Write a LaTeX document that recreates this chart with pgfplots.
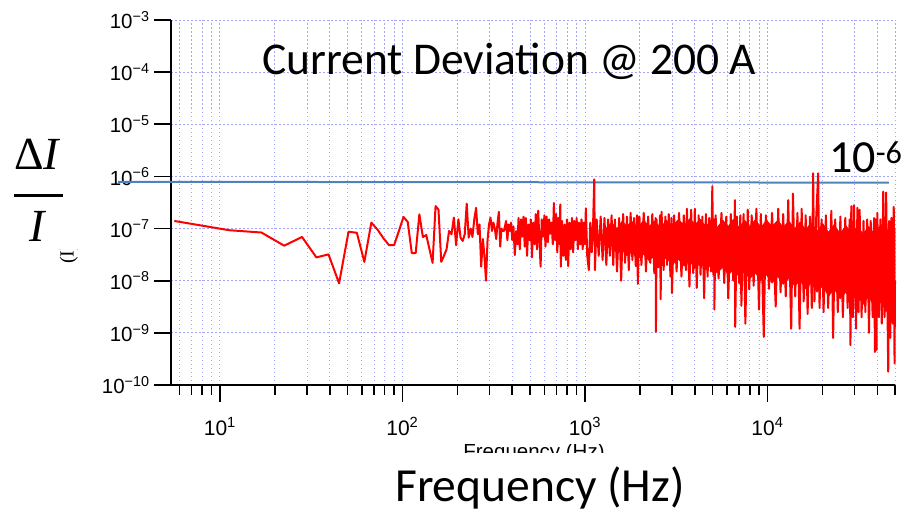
\documentclass[border=0pt]{standalone}
\usepackage{fontspec}
\setmainfont{Carlito}
\newfontfamily\arialf{Liberation Sans}
\newfontfamily\timesf{Liberation Serif}
\usepackage{pgfplots}
\pgfplotsset{compat=1.18}
\definecolor{gridc}{RGB}{165,165,250}
\definecolor{blueline}{RGB}{79,129,189}
\begin{document}
\begin{tikzpicture}[x=1pt,y=1pt]
\useasboundingbox (0,0) rectangle (904,516);
\begin{axis}[
  at={(171pt,131pt)}, anchor=south west,
  width=724pt, height=365pt, scale only axis,
  xmode=log, ymode=log,
  xmin=5.4, xmax=50000, ymin=1e-10, ymax=1e-3,
  axis x line*=bottom, axis y line*=left,
  axis line style={line width=1.6pt, black},
  tick align=outside,
  major tick length=17pt, minor tick length=10pt,
  every tick/.append style={black, line width=1.6pt},
  xtick={10,100,1000,10000},
  xticklabels={10\textsuperscript{1},10\textsuperscript{2},10\textsuperscript{3},10\textsuperscript{4}},
  minor xtick={6,7,8,9,20,30,40,50,60,70,80,90,200,300,400,500,600,700,800,900,2000,3000,4000,5000,6000,7000,8000,9000,20000,30000,40000,50000},
  ytick={1e-10,1e-9,1e-8,1e-7,1e-6,1e-5,1e-4,1e-3},
  yticklabels={10\textsuperscript{−10},10\textsuperscript{−9},10\textsuperscript{−8},10\textsuperscript{−7},10\textsuperscript{−6},10\textsuperscript{−5},10\textsuperscript{−4},10\textsuperscript{−3}},
  yminorticks=false,
  xticklabel style={font=\arialf\fontsize{21}{21}\selectfont, yshift=-12pt},
  yticklabel style={font=\arialf\fontsize{20.5}{20.5}\selectfont, xshift=-1pt},
  xmajorgrids, xminorgrids, ymajorgrids,
  major grid style={gridc, line width=0.8pt, dash pattern=on 1.5pt off 2.5pt},
  minor grid style={gridc, line width=0.8pt, dash pattern=on 1.5pt off 2.5pt},
  clip=false,
]
\addplot[blueline, line width=2pt] coordinates {(2.76,7.9e-7) (46300,7.6e-7)};
% dense core band
\addplot[fill=red, draw=red, line width=0.6pt, line join=round] coordinates {
(1300,1.0e-7) (1400,1.3e-7) (1500,1.0e-7) (1600,1.4e-7) (1700,1.1e-7) (1800,1.4e-7)
(1950,1.05e-7) (2100,1.45e-7) (2250,1.1e-7) (2400,1.4e-7) (2600,1.05e-7) (2800,1.45e-7)
(3000,1.1e-7) (3250,1.5e-7) (3500,1.15e-7) (3750,1.55e-7) (4000,1.2e-7) (4300,1.5e-7)
(4600,1.1e-7) (4900,1.45e-7) (5300,1.05e-7) (5700,1.45e-7) (6100,1.1e-7) (6500,1.5e-7)
(7000,1.05e-7) (7500,1.45e-7) (8000,1.1e-7) (8600,1.5e-7) (9200,1.05e-7) (9900,1.45e-7)
(10600,1.1e-7) (11400,1.45e-7) (12200,1.05e-7) (13100,1.4e-7) (14100,1.0e-7) (15100,1.35e-7)
(16200,9.5e-8) (17400,1.3e-7) (18700,9e-8) (20100,1.25e-7) (21600,8.5e-8) (23200,1.2e-7)
(25000,8e-8) (26900,1.15e-7) (28900,8e-8) (31100,1.1e-7) (33400,8e-8) (35900,1.1e-7)
(38600,8e-8) (41500,1.15e-7) (44600,8.5e-8) (47800,1.2e-7) (50000,1.0e-7)
(50000,2.5e-9) (47800,4e-9) (44600,2.5e-9) (41500,4.5e-9) (38600,3e-9) (35900,5e-9)
(33400,3.5e-9) (31100,5.5e-9) (28900,4e-9) (26900,6e-9) (25000,4.5e-9) (23200,7e-9)
(21600,5e-9) (20100,8e-9) (18700,6e-9) (17400,9e-9) (16200,7e-9) (15100,1.0e-8)
(14100,8e-9) (13100,1.1e-8) (12200,8.5e-9) (11400,1.2e-8) (10600,9e-9) (9900,1.3e-8)
(9200,1e-8) (8600,1.4e-8) (8000,1.1e-8) (7500,1.5e-8) (7000,1.2e-8) (6500,1.6e-8)
(6100,1.3e-8) (5700,1.8e-8) (5300,1.4e-8) (4900,2e-8) (4600,1.6e-8) (4300,2.2e-8)
(4000,1.7e-8) (3750,2.4e-8) (3500,1.9e-8) (3250,2.6e-8) (3000,2e-8) (2800,2.8e-8)
(2600,2.2e-8) (2400,3e-8) (2250,2.4e-8) (2100,3.2e-8) (1950,2.6e-8) (1800,3.5e-8)
(1700,3e-8) (1600,4e-8) (1500,3.5e-8) (1400,5e-8) (1300,5e-8)};
\addplot[red, line width=2pt, line join=round] coordinates {
(5.63,1.40e-7) (11.26,9.3e-8) (16.9,8.4e-8) (22.5,4.7e-8) (28.2,6.9e-8) (33.8,2.8e-8)
(39.4,3.2e-8) (45.0,8.9e-9) (50.7,8.7e-8) (56.3,8.3e-8) (61.9,2.3e-8) (67.6,1.3e-7)
(73.2,9.5e-8) (78.8,6.5e-8) (84.5,4.8e-8) (90.1,4.8e-8) (95.7,9e-8) (101.4,1.67e-7)
(107,1.34e-7) (112.6,3.4e-8) (118.3,3.4e-8) (123.9,1.88e-7) (129.5,6.9e-8) (135.2,7.5e-8)
(140.8,4e-8) (146.4,2.2e-8) (152,2.7e-7) (157.7,2.3e-7) (163.3,2.3e-8) (168.9,3e-8)
(174.6,4e-8) (180.2,9e-8) (185.8,7.8e-8) (191.5,1.62e-7) (197,4.8e-8) (202.7,1.51e-7)
(208.3,6.7e-8) (214,5.8e-8) (219.6,7.8e-8) (225.2,3e-7) (230.8,6.7e-8) (236.5,1e-7)
(242,6.9e-8) (247.7,1.5e-7) (253.4,2.5e-7) (259,7.8e-8) (264.6,1.2e-7) (270.3,1.86e-8)
(276,6.3e-8) (281.5,3e-8) (287.2,1e-8) (292.8,6e-8) (298.4,1.2e-7) (304,1.62e-7)
(309.7,9e-8) (315.3,1.3e-7) (321,1e-7) (326.6,6.3e-8) (332.2,1.3e-7) (337.9,2.1e-7)
(343.5,4.5e-8) (349,1e-7) (354.7,9e-8) (360.3,9e-8)
(370,1.4e-7) (376,6e-8) (382,1.2e-7) (388,9e-8) (394,1.3e-7) (400,6e-8) (406,1.1e-7)
(413,3.1e-8) (420,9e-8) (427,5e-8) (433,1.6e-7) (440,4e-8) (447,1.5e-7) (454,7e-8)
(461,1.7e-7) (468,4.5e-8) (475,1.6e-7) (482,3e-8) (490,1.2e-7) (498,6e-8) (505,1.5e-7)
(513,2.8e-8) (521,1.3e-7) (530,5e-8) (538,1.9e-7) (546,4e-8) (555,2.2e-7) (563,6e-8)
(572,1.86e-8) (580,1.5e-7) (590,7e-8) (600,1.8e-7) (608,4.5e-8) (617,1.7e-7) (627,5.5e-8)
(637,1.5e-7) (647,8e-8) (657,1.3e-7) (667,5e-8) (676,3.1e-7) (686,6e-8) (696,1.9e-7)
(706,3.5e-8) (717,1.6e-7) (727,5e-8) (733,2.9e-7) (738,1.86e-8) (750,1.4e-7) (762,3e-8)
(774,1.2e-7) (786,2.5e-8) (798,1.5e-7) (810,1.9e-8) (823,1.3e-7) (836,4e-8) (849,1.6e-7)
(862,3.5e-8) (875,1.4e-7) (888,6e-8) (901,1.6e-7) (915,4e-8) (929,1.3e-7) (943,5e-8)
(958,1.5e-7) (972,4e-8) (987,1.3e-7) (1000,5e-8) (1012,2.45e-7) (1030,3e-8) (1051,1.6e-8)
(1070,1.3e-7) (1090,3.5e-8) (1110,1.4e-7) (1125,8.8e-7) (1135,1.6e-8) (1160,1.5e-7)
(1190,3e-8) (1220,1.7e-7) (1250,2.5e-8) (1280,1.6e-7) (1310,2e-8) (1340,1.5e-7)
(1370,3e-8) (1400,1.8e-7) (1430,2e-8) (1460,1.5e-7) (1500,1.5e-8)
(1540,1.6e-7) (1580,1e-8) (1620,1.9e-7) (1660,2.2e-8) (1700,1.7e-7) (1740,1.6e-8)
(1780,2e-7) (1820,2.5e-8) (1860,1.6e-7) (1900,1.9e-8) (1930,1.8e-7) (1950,8.7e-9)
(1990,1.7e-7) (2040,2e-8) (2100,2e-7) (2160,1.5e-8) (2220,1.7e-7) (2280,2.2e-8)
(2340,1.9e-7) (2400,1.4e-8) (2440,1.6e-7) (2450,1.05e-9) (2470,1.5e-7) (2520,1.8e-8)
(2580,1.8e-7) (2600,4.4e-9) (2630,2.1e-7) (2700,1.6e-8) (2760,1.7e-7) (2820,2e-8)
(2880,1.9e-7) (2940,1.2e-8) (2980,1.6e-7) (3000,5.8e-9) (3080,1.8e-7) (3180,1.5e-8)
(3280,2e-7) (3380,1.2e-8) (3480,1.8e-7) (3580,1.6e-8) (3620,2.4e-7) (3740,7.7e-9)
(3820,2.3e-7) (3920,1.4e-8) (4000,2.4e-7) (4100,7.3e-9) (4200,1.8e-7) (4300,1.3e-8)
(4400,1.7e-7) (4500,4.6e-9) (4600,1.9e-7) (4700,1.2e-8) (4800,1.6e-7) (4900,1.5e-8)
(4990,6.5e-7) (5050,1.3e-8) (5100,1.5e-7) (5120,2.8e-9) (5200,1.8e-7) (5400,1.1e-8)
(5600,2e-7) (5800,9e-9) (5950,1.7e-7) (6100,4.6e-9) (6300,1.9e-7) (6500,1e-8)
(6640,3.5e-7) (6660,1.3e-9) (6800,1.7e-7) (7000,9e-9) (7100,1.8e-7) (7200,3.3e-9)
(7400,1.9e-7) (7570,1.5e-9) (7800,2.3e-7) (7950,6.8e-9) (8200,1.8e-7) (8400,8e-9)
(8700,2.4e-7) (8990,2.8e-9) (9200,1.9e-7) (9550,8.4e-10) (9800,1.8e-7) (10200,7e-9)
(10600,2e-7) (11100,3.2e-9) (11460,2.4e-7) (11800,6e-9) (12200,1.9e-7) (12600,5e-9)
(13000,3.5e-7) (13500,1.2e-9) (13800,4.7e-7) (14200,5e-9) (14600,2e-7) (15000,1.2e-9)
(15400,2.4e-7) (15800,4e-9) (16200,1.8e-7) (16600,2.3e-9) (17100,1.7e-7) (17500,3e-9)
(17800,1.15e-6) (18100,4e-9) (18500,1.6e-7) (18970,1.15e-6) (19300,3e-9) (19800,1.5e-7)
(20300,2.5e-9) (20900,1.8e-7) (21500,3e-9) (22400,2.2e-7) (22900,8e-10) (23500,1.5e-7)
(24300,2.5e-9) (25100,1.7e-7) (25900,2e-9) (26700,1.6e-7) (27500,3e-9) (28200,1.5e-7)
(28500,5.8e-10) (28800,2.7e-7) (29400,2e-9) (29800,2.8e-7) (30600,1.2e-9) (31100,2.5e-7)
(31600,2.5e-9) (32000,2.3e-7) (32800,2e-9) (33600,1.4e-7) (34400,2.5e-9) (35200,1.5e-7)
(36000,1e-9) (36800,1.4e-7) (37700,2e-9) (38400,1.6e-7) (38800,4.3e-10) (39200,1.5e-7)
(39600,4.7e-10) (40000,2e-7) (40800,2e-9) (41600,1.5e-7) (42300,1.5e-9) (43100,5.1e-7)
(43800,2e-9) (44700,4.9e-7) (45900,1.8e-10) (46400,1.4e-7) (47100,8e-10) (47800,1.6e-7)
(48600,1.5e-9) (49200,2.6e-7) (49700,2.6e-10) (50000,1e-8)};
\end{axis}
% texts
\node[anchor=base west, inner sep=0, font=\fontsize{45.5}{45.5}\selectfont] at (262,441) {Current Deviation @ 200 A};
\node[anchor=base west, inner sep=0, font=\fontsize{46}{46}\selectfont] at (829,343) {10\textsuperscript{-6}};
\node[anchor=base west, inner sep=0, font=\fontsize{47.5}{47.5}\selectfont] at (395,14) {Frequency (Hz)};
% left fraction label
\node[anchor=base west, inner sep=0, font=\timesf\fontsize{46}{46}\selectfont] at (14,346) {Δ\textit{I}};
\draw[line width=2.7pt] (14,320.5) -- (63,320.5);
\node[anchor=base, inner sep=0, font=\timesf\fontsize{46}{46}\selectfont] at (38.5,274) {\textit{I}};
% clipped remnants of the original axis labels
\begin{scope}
\clip (440,63) rectangle (640,71.5);
\node[anchor=base, inner sep=0, font=\arialf\fontsize{20.5}{20.5}\selectfont] at (534,57) {Frequency (Hz)};
\end{scope}
\begin{scope}
\clip (50,251) rectangle (90,266);
\node[anchor=south west, rotate=90, inner sep=0, font=\timesf\fontsize{20}{20}\selectfont] at (78,252) {(I) x};
\end{scope}
\end{tikzpicture}
\end{document}
